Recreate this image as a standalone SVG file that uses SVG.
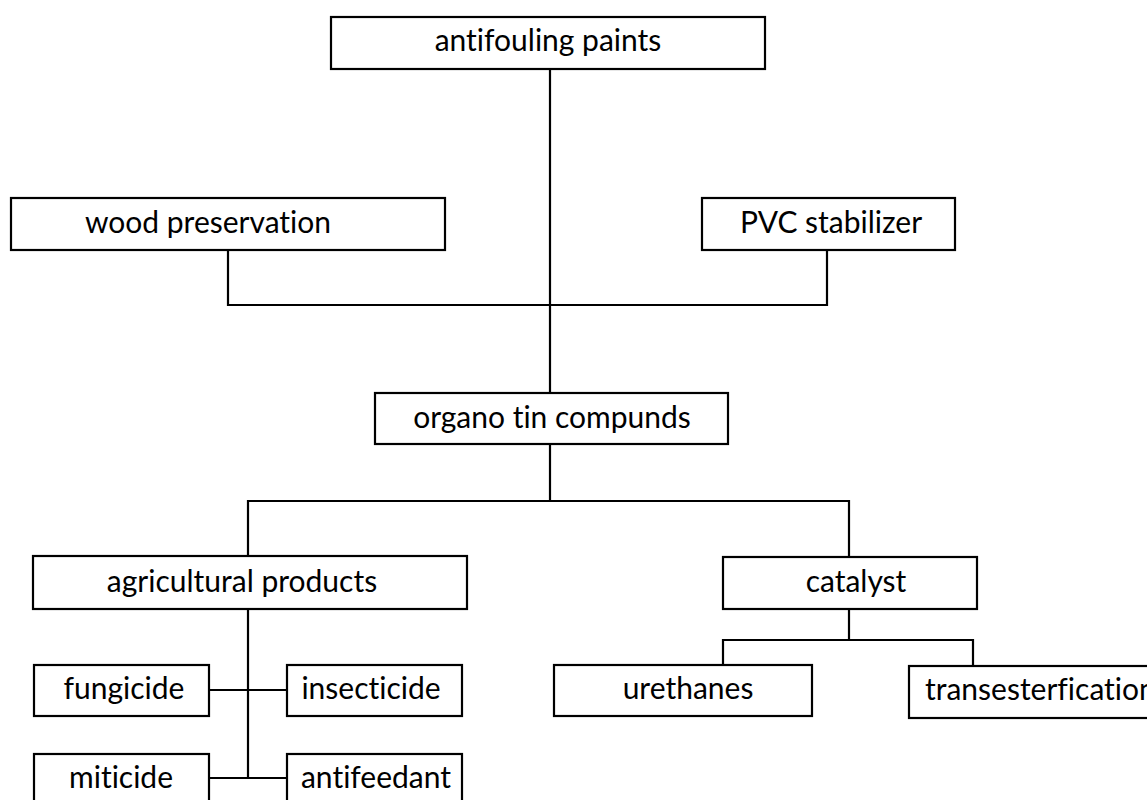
<svg xmlns="http://www.w3.org/2000/svg" width="1147" height="800" viewBox="0 0 1147 800">
<style>
.box{fill:#fff;stroke:#000;stroke-width:2.2}
.t{font-family:Lato,"Open Sans","Liberation Sans",sans-serif;font-size:30px;fill:#000;text-anchor:middle;font-variant-ligatures:none;font-feature-settings:"liga" 0}
.c{fill:none;stroke:#000;stroke-width:2.2}
</style>
<rect width="1147" height="800" fill="#fff"/>
<g id="connectors">
<path class="c" d="M550,69 V393"/>
<path class="c" d="M228,250 V305 H827 V250"/>
<path class="c" d="M550,444 V501"/>
<path class="c" d="M248,556 V501 H849 V557"/>
<path class="c" d="M248,609 V778"/>
<path class="c" d="M209,690 H287"/>
<path class="c" d="M209,778 H287"/>
<path class="c" d="M849,609 V640"/>
<path class="c" d="M723,665 V640 H973 V666"/>
</g>
<g id="antifouling"><rect class="box" x="331" y="17" width="434" height="52"/><text class="t" x="548" y="51">antifouling paints</text></g>
<g id="wood"><rect class="box" x="11" y="198" width="434" height="52"/><text class="t" x="208" y="233">wood preservation</text></g>
<g id="pvc"><rect class="box" x="702" y="198" width="253" height="52"/><text class="t" x="831" y="233">PVC stabilizer</text></g>
<g id="organo"><rect class="box" x="375" y="393" width="353" height="51"/><text class="t" x="552" y="428">organo tin compunds</text></g>
<g id="agri"><rect class="box" x="33" y="556" width="434" height="53"/><text class="t" x="242" y="592">agricultural products</text></g>
<g id="catalyst"><rect class="box" x="723" y="557" width="254" height="52"/><text class="t" x="856" y="592">catalyst</text></g>
<g id="fungicide"><rect class="box" x="34" y="665" width="175" height="51"/><text class="t" x="124" y="699">fungicide</text></g>
<g id="insecticide"><rect class="box" x="287" y="665" width="175" height="51"/><text class="t" x="371" y="699">insecticide</text></g>
<g id="miticide"><rect class="box" x="34" y="754" width="175" height="60"/><text class="t" x="121" y="788">miticide</text></g>
<g id="antifeedant"><rect class="box" x="287" y="754" width="175" height="60"/><text class="t" x="376" y="788">antifeedant</text></g>
<g id="urethanes"><rect class="box" x="554" y="665" width="258" height="51"/><text class="t" x="688" y="699">urethanes</text></g>
<g id="trans"><rect class="box" x="909" y="666" width="260" height="52"/><text class="t" x="925" y="700" style="text-anchor:start">transesterfication</text></g>
</svg>
